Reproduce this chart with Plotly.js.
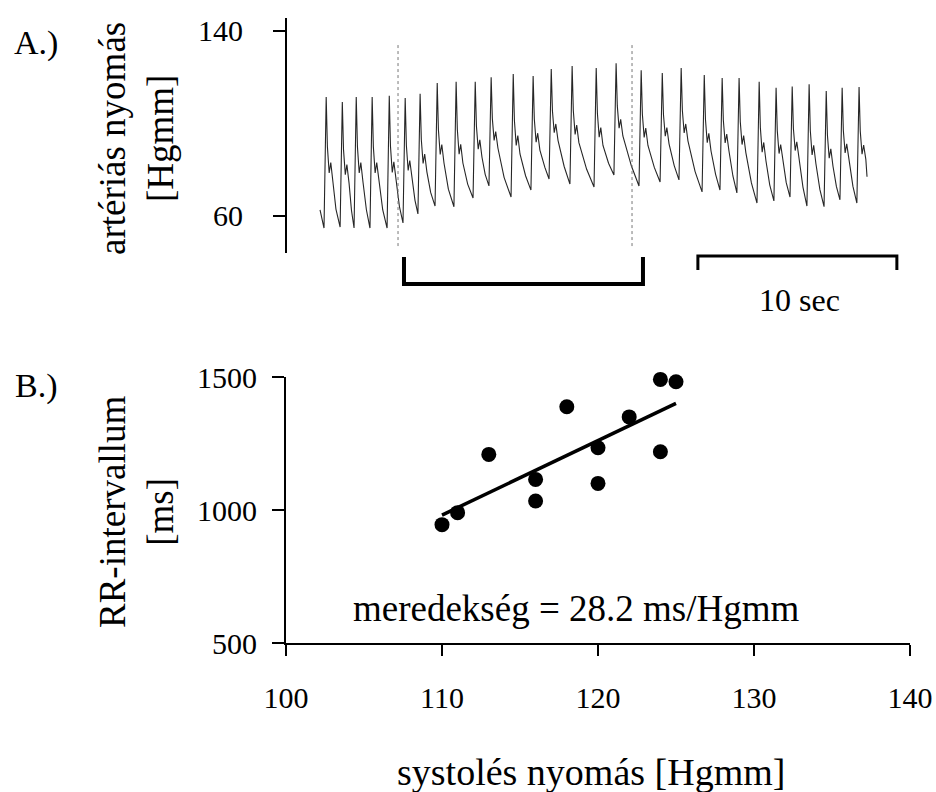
<!DOCTYPE html>
<html>
<head>
<meta charset="utf-8">
<script src="https://cdn.plot.ly/plotly-3.0.1.min.js"></script>
<style>html,body{margin:0;padding:0;background:#fff}#chart{width:936px;height:792px}</style>
</head>
<body>
<div id="chart"></div>
<script>
// ---- Panel A: arterial pressure trace (time in s, pressure in Hgmm) ----
const traceTime = [
  0.00,
  0.20, 0.31, 0.37, 0.46, 0.54, 0.65, 0.80,
  1.01, 1.12, 1.18, 1.27, 1.35, 1.46, 1.58,
  1.71, 1.82, 1.88, 1.97, 2.05, 2.16, 2.33,
  2.51, 2.62, 2.68, 2.77, 2.85, 2.96, 3.15,
  3.37, 3.48, 3.54, 3.63, 3.71, 3.82, 3.99,
  4.17, 4.28, 4.34, 4.43, 4.51, 4.62, 4.77,
  4.92, 5.03, 5.09, 5.18, 5.26, 5.37, 5.56,
  5.78, 5.89, 5.95, 6.04, 6.12, 6.23, 6.45,
  6.73, 6.84, 6.90, 6.99, 7.07, 7.18, 7.42,
  7.69, 7.80, 7.86, 7.95, 8.03, 8.14, 8.30,
  8.49, 8.60, 8.66, 8.75, 8.83, 8.94, 9.25,
  9.60, 9.71, 9.77, 9.86, 9.94, 10.05, 10.33,
  10.60, 10.71, 10.77, 10.86, 10.94, 11.05, 11.30,
  11.51, 11.62, 11.68, 11.77, 11.85, 11.96, 12.27,
  12.56, 12.67, 12.73, 12.82, 12.90, 13.01, 13.40,
  13.77, 13.88, 13.94, 14.03, 14.11, 14.22, 14.50,
  14.77, 14.88, 14.94, 15.03, 15.11, 15.22, 15.65,
  16.03, 16.14, 16.20, 16.29, 16.37, 16.48, 16.80,
  17.09, 17.20, 17.26, 17.35, 17.43, 17.54, 17.80,
  18.04, 18.15, 18.21, 18.30, 18.38, 18.49, 18.85,
  19.20, 19.31, 19.37, 19.46, 19.54, 19.65, 19.88,
  20.10, 20.21, 20.27, 20.36, 20.44, 20.55, 20.75,
  20.95, 21.06, 21.12, 21.21, 21.29, 21.40, 21.68,
  21.96, 22.07, 22.13, 22.22, 22.30, 22.41, 22.60,
  22.81, 22.92, 22.98, 23.07, 23.15, 23.26, 23.43,
  23.62, 23.73, 23.79, 23.88, 23.96, 24.07, 24.27,
  24.47, 24.58, 24.64, 24.73, 24.81, 24.92, 25.12,
  25.33, 25.44, 25.50, 25.59, 25.67, 25.78, 25.95,
  26.13, 26.24, 26.30, 26.39, 26.47, 26.58, 26.78,
  26.98, 27.09, 27.15, 27.24, 27.32, 27.43, 27.49
];
const tracePressure = [
  62.6,
  54.8, 111.5, 90.0, 78.6, 83.1, 74.6, 63.0,
  55.2, 109.3, 88.7, 77.9, 82.2, 74.1, 62.5,
  54.8, 111.5, 90.0, 78.6, 83.1, 74.6, 62.7,
  54.8, 111.5, 90.0, 78.6, 83.1, 74.6, 62.7,
  54.8, 112.0, 90.3, 78.8, 83.4, 74.8, 64.1,
  57.0, 111.0, 90.5, 79.7, 84.0, 75.9, 66.9,
  60.9, 112.8, 93.1, 82.7, 86.8, 79.1, 70.2,
  64.3, 117.5, 97.3, 86.6, 90.9, 82.9, 71.6,
  64.0, 118.0, 97.5, 86.7, 91.0, 82.9, 73.8,
  67.8, 118.0, 98.9, 88.9, 92.9, 85.4, 78.0,
  73.0, 120.0, 102.1, 92.7, 96.5, 89.4, 76.7,
  68.2, 121.4, 101.2, 90.5, 94.8, 86.8, 77.4,
  71.2, 120.5, 101.8, 91.9, 95.8, 88.5, 81.0,
  76.0, 123.6, 105.5, 96.0, 99.8, 92.7, 81.4,
  73.8, 124.9, 105.5, 95.3, 99.3, 91.7, 80.2,
  72.5, 124.0, 104.4, 94.1, 98.2, 90.5, 82.8,
  77.7, 126.0, 107.6, 98.0, 101.8, 94.6, 81.6,
  73.0, 123.0, 104.0, 94.0, 98.0, 90.5, 81.0,
  74.7, 121.8, 103.9, 94.5, 98.2, 91.2, 81.8,
  75.6, 124.0, 105.6, 95.9, 99.8, 92.5, 79.2,
  70.4, 121.0, 101.8, 91.7, 95.7, 88.1, 78.0,
  71.2, 119.7, 101.3, 91.6, 95.4, 88.2, 77.3,
  70.0, 119.7, 100.8, 90.9, 94.8, 87.4, 74.3,
  65.6, 118.0, 98.1, 87.6, 91.8, 83.9, 73.5,
  66.5, 115.4, 96.8, 87.0, 90.9, 83.6, 74.4,
  68.2, 116.0, 97.8, 88.3, 92.1, 84.9, 72.5,
  64.3, 117.0, 97.0, 86.4, 90.6, 82.7, 71.5,
  64.0, 114.0, 95.0, 85.0, 89.0, 81.5, 72.8,
  67.0, 115.4, 97.0, 87.3, 91.2, 83.9, 72.9,
  65.6, 115.8, 96.7, 86.7, 90.7, 84.5, 77.0
];
const markerTimes = [3.92, 15.68];          // dotted vertical markers
const markerSpan = [47.0, 134.4];
const bracketTime = [4.22, 4.22, 16.23, 16.23];   // analysed segment
const bracketLevel = [42.3, 30.6, 30.6, 42.3];
const scaleTime = [18.99, 18.99, 28.99, 28.99];   // 10 s scale bar
const scaleLevel = [36.6, 42.7, 42.7, 36.6];
const pressureTicks = [60, 140];

// ---- Panel B: RR interval vs systolic pressure ----
const systolic = [110, 111, 113, 116, 116, 118, 120, 120, 122, 124, 124, 125];
const rrInterval = [945, 990, 1209, 1115, 1034, 1388, 1234, 1100, 1350, 1491, 1219, 1482];
const fitSystolic = [110, 125];
const fitRR = [981, 1401];
const xTicksB = [100, 110, 120, 130, 140];
const yTicksB = [500, 1000, 1500];

const FONT = 'Liberation Serif, Times New Roman, serif';
const W = 936, H = 792;
const px = v => v / W, py = v => 1 - v / H;

const data = [
  {x: traceTime, y: tracePressure, type: 'scatter', mode: 'lines',
   line: {color: '#262626', width: 1.1}, xaxis: 'x', yaxis: 'y', hoverinfo: 'skip'},
  {x: [markerTimes[0], markerTimes[0]], y: markerSpan, type: 'scatter', mode: 'lines',
   line: {color: '#777', width: 1, dash: 'dot'}, xaxis: 'x', yaxis: 'y'},
  {x: [markerTimes[1], markerTimes[1]], y: markerSpan, type: 'scatter', mode: 'lines',
   line: {color: '#777', width: 1, dash: 'dot'}, xaxis: 'x', yaxis: 'y'},
  {x: bracketTime, y: bracketLevel, type: 'scatter', mode: 'lines',
   line: {color: '#000', width: 4}, xaxis: 'x', yaxis: 'y'},
  {x: scaleTime, y: scaleLevel, type: 'scatter', mode: 'lines',
   line: {color: '#000', width: 3}, xaxis: 'x', yaxis: 'y'},
  {x: systolic, y: rrInterval, type: 'scatter', mode: 'markers',
   marker: {color: '#000', size: 15}, xaxis: 'x2', yaxis: 'y2', cliponaxis: false},
  {x: fitSystolic, y: fitRR, type: 'scatter', mode: 'lines',
   line: {color: '#000', width: 3.5}, xaxis: 'x2', yaxis: 'y2'}
];

const tickFont = {family: FONT, size: 30, color: '#000'};
const layout = {
  width: W, height: H,
  margin: {l: 0, r: 0, t: 0, b: 0},
  paper_bgcolor: '#fff', plot_bgcolor: 'rgba(0,0,0,0)',
  showlegend: false,
  font: {family: FONT, color: '#000'},
  xaxis: {domain: [px(286), px(910)], range: [-1.71, 29.65], visible: false, anchor: 'y'},
  yaxis: {domain: [py(290), py(17.1)], range: [28, 146], anchor: 'x',
    tickvals: pressureTicks, ticks: 'outside', ticklen: 12, tickwidth: 2, tickcolor: '#000',
    showline: false, showgrid: false, zeroline: false, tickfont: tickFont, ticklabelstandoff: 24},
  xaxis2: {domain: [px(286), px(910)], range: [100, 140], anchor: 'y2',
    tickvals: xTicksB, ticks: 'outside', ticklen: 11, tickwidth: 2, tickcolor: '#000',
    showline: true, linewidth: 2, linecolor: '#000', showgrid: false, zeroline: false,
    tickfont: tickFont, ticklabelstandoff: 16},
  yaxis2: {domain: [py(643), py(377)], range: [500, 1500], anchor: 'x2',
    tickvals: yTicksB, ticks: 'outside', ticklen: 12, tickwidth: 2, tickcolor: '#000',
    showline: true, linewidth: 2, linecolor: '#000', showgrid: false, zeroline: false,
    tickfont: tickFont, ticklabelstandoff: 9},
  shapes: [
    {type: 'line', xref: 'x domain', yref: 'y', x0: 0, x1: 0, y0: 44, y1: 145.6,
     line: {color: '#000', width: 2}}
  ],
  annotations: [
    {text: 'A.)', x: px(36), y: py(43), xref: 'paper', yref: 'paper', showarrow: false,
     font: {family: FONT, size: 34}, xanchor: 'center', yanchor: 'middle'},
    {text: 'B.)', x: px(36), y: py(386), xref: 'paper', yref: 'paper', showarrow: false,
     font: {family: FONT, size: 34}, xanchor: 'center', yanchor: 'middle'},
    {text: 'artériás nyomás<br>[Hgmm]', x: px(136), y: py(139), xref: 'paper', yref: 'paper',
     showarrow: false, textangle: -90, font: {family: FONT, size: 37}, xanchor: 'center', yanchor: 'middle'},
    {text: 'RR-intervallum<br>[ms]', x: px(136), y: py(512), xref: 'paper', yref: 'paper',
     showarrow: false, textangle: -90, font: {family: FONT, size: 37}, xanchor: 'center', yanchor: 'middle'},
    {text: '10 sec', x: px(799), y: py(300), xref: 'paper', yref: 'paper', showarrow: false,
     font: {family: FONT, size: 32}, xanchor: 'center', yanchor: 'middle'},
    {text: 'meredekség = 28.2 ms/Hgmm', x: px(576), y: py(608), xref: 'paper', yref: 'paper', showarrow: false,
     font: {family: FONT, size: 37}, xanchor: 'center', yanchor: 'middle'},
    {text: 'systolés nyomás [Hgmm]', x: px(591), y: py(772), xref: 'paper', yref: 'paper', showarrow: false,
     font: {family: FONT, size: 38}, xanchor: 'center', yanchor: 'middle'}
  ]
};

Plotly.newPlot('chart', data, layout, {staticPlot: true, displayModeBar: false});
</script>
</body>
</html>
